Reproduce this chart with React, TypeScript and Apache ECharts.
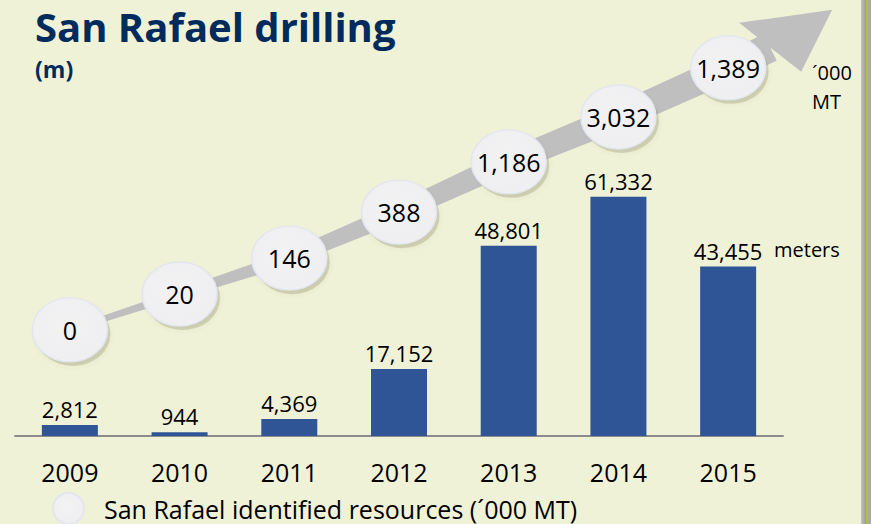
import React, { useEffect, useRef } from "react";
import * as echarts from "echarts";

// ---- data ----
const years = ["2009", "2010", "2011", "2012", "2013", "2014", "2015"];
const drillingMeters = [2812, 944, 4369, 17152, 48801, 61332, 43455];
const resourcesKMT = [0, 20, 146, 388, 1186, 3032, 1389];
// position of each resource bubble along the rising arrow (hidden axis, 0-100)
const arrowHeight = [27.2, 36.4, 45.6, 57.4, 70.3, 81.8, 94.4];
const titleText = "San Rafael drilling";
const subtitleText = "(m)";
const legendName = "San Rafael identified resources (´000 MT)";
const unitResources = ["´000", "MT"];
const unitMeters = "meters";

const FONT = "'Open Sans', 'Noto Sans', sans-serif";
const fmt = (v: number) => v.toLocaleString("en-US");
const BUBBLE = "path://M0,32 A37,32 0 1 1 74,32 A37,32 0 1 1 0,32 Z";

export default function App() {
  const ref = useRef<HTMLDivElement>(null);

  useEffect(() => {
    if (!ref.current) return;
    const chart = echarts.init(ref.current, null, { renderer: "svg" });

    const shaftWidths = [5, 9, 14, 19, 23, 26, 28, 30];
    const bubbleData = arrowHeight.map((h, i) => [i, h, resourcesKMT[i]]);

    const option: any = {
      animation: false,
      backgroundColor: "#F0F2D8",
      title: {
        text: titleText,
        subtext: subtitleText,
        left: 30,
        top: 1,
        itemGap: 11,
        textStyle: { fontSize: 40, fontWeight: "bold", color: "#002B5C", fontFamily: FONT },
        subtextStyle: { fontSize: 23, fontWeight: "bold", color: "#002B5C", fontFamily: FONT },
      },
      legend: {
        show: true,
        left: 47,
        top: 487,
        itemWidth: 31,
        itemHeight: 31,
        selectedMode: false,
        data: [{ name: legendName, icon: "circle" }],
        textStyle: { fontSize: 25, color: "#000", fontFamily: FONT, padding: [0, 0, 0, 15] },
      },
      grid: { left: 15, right: 88, top: 46, bottom: 88, containLabel: false },
      xAxis: [
        {
          type: "category",
          data: years,
          axisLine: { lineStyle: { color: "#8C8C8C", width: 2 } },
          axisTick: { show: false },
          axisLabel: { fontSize: 25, margin: 23, color: "#000", fontFamily: FONT },
        },
      ],
      yAxis: [
        { type: "value", min: 0, max: 100000, show: false },
        { type: "value", min: 0, max: 100, show: false },
      ],
      series: [
        {
          type: "custom",
          name: "arrow",
          xAxisIndex: 0,
          yAxisIndex: 1,
          z: 1,
          silent: true,
          clip: false,
          data: [[0, arrowHeight[0]]],
          renderItem: (params: any, api: any) => {
            const pts: number[][] = arrowHeight.map((h, i) => api.coord([i, h]));
            const last = pts[pts.length - 1];
            const base = [last[0] + 42, last[1] - 20.5];
            const all = [...pts, base];
            const top: number[][] = [];
            const bot: number[][] = [];
            for (let i = 0; i < all.length; i++) {
              const a = all[Math.max(0, i - 1)];
              const b = all[Math.min(all.length - 1, i + 1)];
              let dx = b[0] - a[0];
              let dy = b[1] - a[1];
              const len = Math.hypot(dx, dy) || 1;
              dx /= len;
              dy /= len;
              const nx = -dy;
              const ny = dx;
              const w = shaftWidths[i] / 2;
              top.push([all[i][0] - nx * w, all[i][1] - ny * w]);
              bot.push([all[i][0] + nx * w, all[i][1] + ny * w]);
            }
            const shaft = [...top, ...bot.reverse()];
            const head = [
              [base[0] - 31, base[1] - 24.5],
              [last[0] + 104, last[1] - 58],
              [base[0] + 31, base[1] + 24.5],
            ];
            return {
              type: "group",
              children: [
                { type: "polygon", shape: { points: shaft }, style: { fill: "#BFBFBF" } },
                { type: "polygon", shape: { points: head }, style: { fill: "#BFBFBF" } },
              ],
            };
          },
        },
        {
          type: "bar",
          name: "Drilling (m)",
          xAxisIndex: 0,
          yAxisIndex: 0,
          z: 2,
          barWidth: 56,
          data: drillingMeters,
          itemStyle: { color: "#2F5597" },
          label: {
            show: true,
            position: "top",
            distance: 5,
            fontSize: 22,
            color: "#000",
            fontFamily: FONT,
            formatter: (p: any) => fmt(p.value),
          },
        },
        {
          type: "scatter",
          name: "bubble shadow",
          xAxisIndex: 0,
          yAxisIndex: 1,
          z: 3,
          silent: true,
          symbol: BUBBLE,
          symbolSize: [75, 64],
          symbolOffset: [3, 4],
          data: bubbleData,
          itemStyle: {
            color: "rgba(110,110,70,0.28)",
            shadowBlur: 5,
            shadowColor: "rgba(90,90,50,0.4)",
          },
        },
        {
          type: "scatter",
          name: legendName,
          xAxisIndex: 0,
          yAxisIndex: 1,
          z: 4,
          symbol: BUBBLE,
          symbolSize: [75, 64],
          data: bubbleData,
          itemStyle: {
            color: {
              type: "radial",
              x: 0.45,
              y: 0.4,
              r: 0.7,
              colorStops: [
                { offset: 0, color: "#F2F2F3" },
                { offset: 0.8, color: "#EFEFF1" },
                { offset: 1, color: "#F8F8FA" },
              ],
            },
            borderColor: "#E2E6EF",
            borderWidth: 1.5,
            opacity: 1,
          },
          label: {
            show: true,
            position: "inside",
            fontSize: 25,
            color: "#000000",
            opacity: 1,
            textBorderWidth: 0,
            textShadowBlur: 0,
            fontFamily: FONT,
            formatter: (p: any) => fmt(resourcesKMT[p.dataIndex]),
          },
        },
      ],
      graphic: [
        {
          type: "text",
          x: 812,
          y: 72,
          style: { text: unitResources[0], fill: "#000", font: `20px ${FONT}`, verticalAlign: "middle" },
        },
        {
          type: "text",
          x: 812,
          y: 101,
          style: { text: unitResources[1], fill: "#000", font: `20px ${FONT}`, verticalAlign: "middle" },
        },
        {
          type: "text",
          x: 774,
          y: 249,
          style: { text: unitMeters, fill: "#000", font: `20px ${FONT}`, verticalAlign: "middle" },
        },
        {
          type: "rect",
          shape: { x: 861, y: 0, width: 5, height: 524 },
          style: {
            fill: new echarts.graphic.LinearGradient(0, 0, 1, 0, [
              { offset: 0, color: "#C4C4C4" },
              { offset: 1, color: "#9A9A9A" },
            ]),
          },
        },
        { type: "rect", shape: { x: 866, y: 0, width: 2, height: 524 }, style: { fill: "#B3C13A" } },
        { type: "rect", shape: { x: 868, y: 0, width: 3, height: 524 }, style: { fill: "#A9A9A9" } },
      ],
    };

    chart.setOption(option);
    return () => chart.dispose();
  }, []);

  return (
    <div
      ref={ref}
      style={{ position: "absolute", left: 0, top: 0, width: 871, height: 524 }}
    />
  );
}
